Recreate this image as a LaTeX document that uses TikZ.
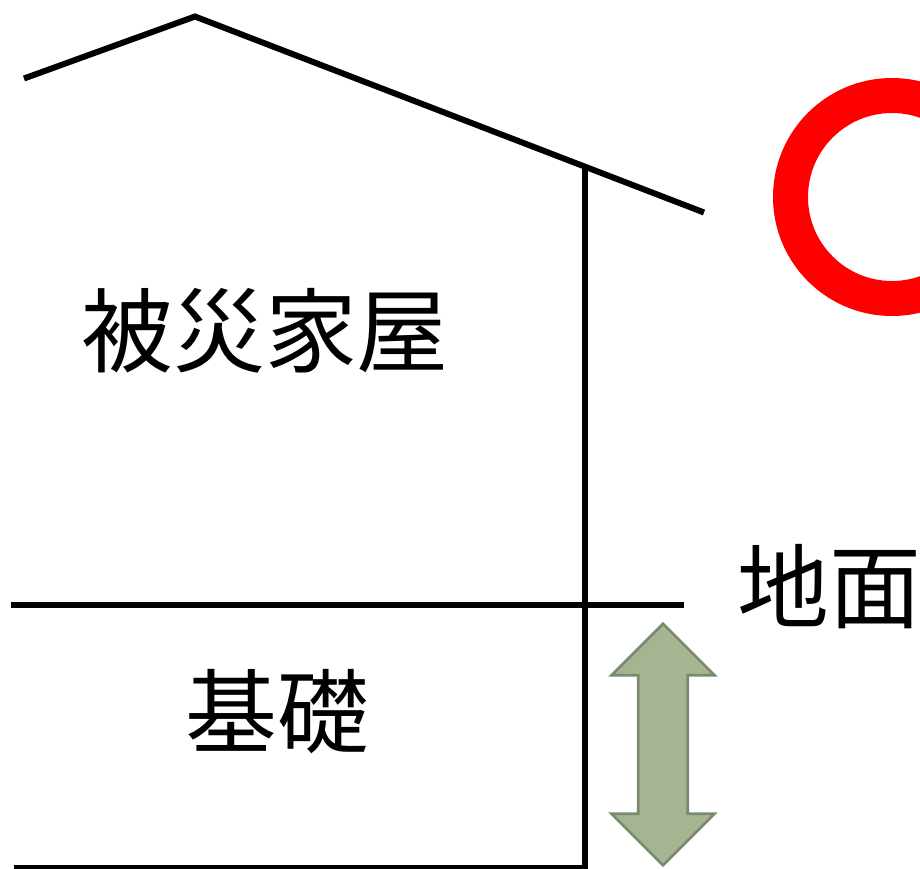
\documentclass[tikz,border=0pt]{standalone}
\usepackage{fontspec}
\usepackage{tikz}
\usetikzlibrary{shapes.arrows,positioning}
\newfontfamily\cjk{Noto Sans CJK JP}
\definecolor{arrowfill}{HTML}{A5B592}
\definecolor{arrowline}{HTML}{7A8A6C}
\tikzset{
  wall/.style={line width=0.225cm,black},
  label/.style={font=\cjk\fontsize{98}{98}\selectfont,inner sep=0pt},
  gap/.style={shape=double arrow,draw=arrowline,fill=arrowfill,line width=0.1cm,
    inner xsep=0.88cm,inner ysep=0pt,minimum height=9.05cm,
    double arrow head extend=1.0cm,shape border rotate=90}
}
\begin{document}
\begin{tikzpicture}[x=0.0375cm,y=-0.0375cm]
\useasboundingbox (0,0) rectangle (920,868);

% the roof
\draw [wall] (24,78.5) -- (195,16.5) -- (704,212.5);

% the house
\draw [wall] (584.5,167) -- (584.5,868) -- (14,868);
\draw [wall] (11,605) -- (684,605);

\node[label] (house) at (265,331) {被災家屋};
\node[label] (base) at (277,712) {基礎};
\node[label,anchor=west] (ground) at (737,587) {地面};

\node[gap] (height) at (663,744.5) {};

% the mark
\draw [red,line width=1.3125cm] (892,197) circle (101.5);

\end{tikzpicture}
\end{document}
